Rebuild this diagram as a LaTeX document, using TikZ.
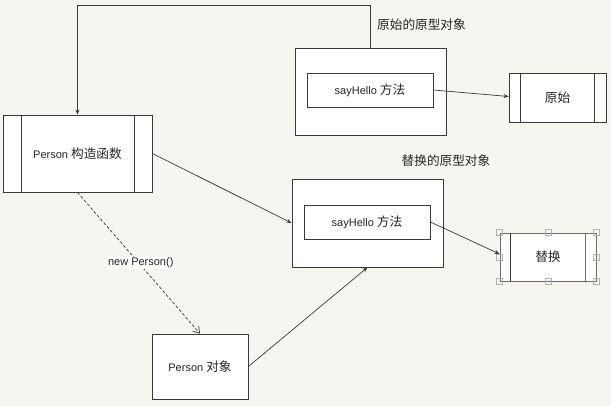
\documentclass[tikz,border=0pt]{standalone}
\usepackage{fontspec}
\setmainfont{Liberation Sans}
\newfontfamily\cjk{Noto Sans CJK SC}[Scale=1.15]
\usetikzlibrary{arrows.meta}
\definecolor{canvas}{HTML}{F6F5F0}
\definecolor{ink}{HTML}{3A3A3A}
\definecolor{txt}{HTML}{262626}
\tikzset{
  x=1pt, y=-1pt,
  every node/.style={font=\fontsize{11}{13}\selectfont, text=txt},
  box/.style={draw=ink, line width=0.8pt, fill=white, inner sep=0pt},
  label/.style={inner sep=1pt},
  link/.style={draw=ink, line width=0.7pt, -{Stealth[length=5pt,width=4pt]}},
  newlink/.style={draw=ink, line width=0.7pt, dashed, dash pattern=on 3pt off 2pt,
                  -{Straight Barb[length=6pt,width=8pt]}},
  handle/.style={draw=gray!60, line width=0.5pt, minimum size=6pt, inner sep=0pt}
}
\begin{document}
\begin{tikzpicture}
  \fill[canvas] (0,0) rectangle (611,406);
  \useasboundingbox (0,0) rectangle (611,406);

  % prototype objects with their sayHello methods
  \node[box, minimum width=151pt, minimum height=87pt] (outer1) at (370.5,91.5) {};
  \node[box, minimum width=126pt, minimum height=34pt] (say1) at (370,90) {sayHello {\cjk 方法}};
  \node[label] (lbl1) at (421.5,25) {\cjk 原始的原型对象};

  \node[box, minimum width=151pt, minimum height=88pt] (outer2) at (367.5,223) {};
  \node[box, minimum width=126pt, minimum height=34pt] (say2) at (367,222) {sayHello {\cjk 方法}};
  \node[label] (lbl2) at (446,161) {\cjk 替换的原型对象};

  % constructor and instance
  \node[box, minimum width=149pt, minimum height=77pt] (ctor) at (77.5,153.5) {Person {\cjk 构造函数}};
  \draw[ink, line width=0.8pt] ([xshift=19pt]ctor.north west) -- ([xshift=19pt]ctor.south west);
  \draw[ink, line width=0.8pt] ([xshift=-18pt]ctor.north east) -- ([xshift=-18pt]ctor.south east);

  \node[box, minimum width=96pt, minimum height=65pt] (pobj) at (200,366.5) {Person {\cjk 对象}};

  % method implementations
  \node[box, minimum width=97pt, minimum height=49pt] (orig) at (557.5,97.5) {\cjk 原始};
  \draw[ink, line width=0.8pt] ([xshift=12pt]orig.north west) -- ([xshift=12pt]orig.south west);
  \draw[ink, line width=0.8pt] ([xshift=-12pt]orig.north east) -- ([xshift=-12pt]orig.south east);

  \node[box, draw=gray!70!ink, minimum width=96pt, minimum height=48pt] (repl) at (548,257) {\cjk 替换};
  \draw[ink, line width=0.8pt] ([xshift=11pt]repl.north west) -- ([xshift=11pt]repl.south west);
  \draw[gray!70!ink, line width=0.8pt] ([xshift=-11pt]repl.north east) -- ([xshift=-11pt]repl.south east);
  \foreach \a in {north west,north,north east,east,south east,south,south west,west}
    \node[handle] at (repl.\a) {};

  % connectors
  \coordinate (topbend) at (77.5,5);
  \draw[link] (outer1.north) |- (topbend) -- (ctor.north);
  \draw[link] (say1.east) -- ([yshift=1pt]orig.west);
  \draw[link] (ctor.east) -- (outer2.west);
  \draw[link] (say2.east) -- ([yshift=3pt]repl.west);
  \draw[newlink] (ctor.south) -- (pobj.north)
    node[pos=0.5, fill=white, inner sep=1pt, xshift=2pt] (newlbl) {new Person()};
  \draw[link] (pobj.east) -- (outer2.south);
\end{tikzpicture}
\end{document}
